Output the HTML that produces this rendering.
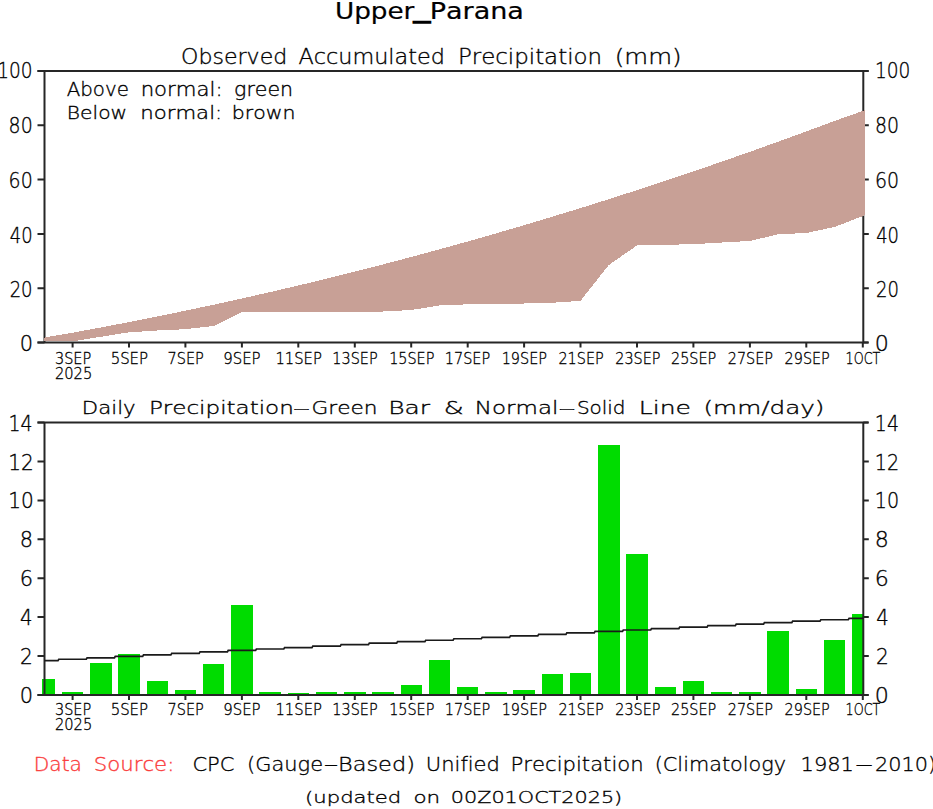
<!DOCTYPE html><html><head><meta charset="utf-8"><title>Upper_Parana</title><style>html,body{margin:0;padding:0;background:#fff;}svg{display:block;}text{font-variant-ligatures:none;font-kerning:none;}</style></head><body>
<svg width="933" height="809" viewBox="0 0 933 809">
<rect width="933" height="809" fill="#fff"/>
<path d="M44.5,71.0 V342.5 M863.3,71.0 V342.5 M37.5,71.0 H868.3 M37.5,342.5 H868.3" stroke="#262626" stroke-width="2" fill="none"/>
<path d="M37.5,342.5 H44.5 M863.3,342.5 H868.8 M37.5,288.2 H44.5 M863.3,288.2 H868.8 M37.5,233.9 H44.5 M863.3,233.9 H868.8 M37.5,179.6 H44.5 M863.3,179.6 H868.8 M37.5,125.3 H44.5 M863.3,125.3 H868.8 M37.5,71.0 H44.5 M863.3,71.0 H868.8 M72.6,342.5 v5 M129.0,342.5 v5 M185.4,342.5 v5 M241.9,342.5 v5 M298.3,342.5 v5 M354.8,342.5 v5 M411.2,342.5 v5 M467.7,342.5 v5 M524.1,342.5 v5 M580.5,342.5 v5 M637.0,342.5 v5 M693.4,342.5 v5 M749.9,342.5 v5 M806.3,342.5 v5 M862.8,342.5 v5 " stroke="#262626" stroke-width="2" fill="none"/>
<polygon points="43.5,337.7 72.6,332.7 100.8,327.5 129.0,322.1 157.2,316.5 185.4,310.7 213.7,304.7 241.9,298.5 270.1,292.1 298.3,285.5 326.6,278.7 354.8,271.6 383.0,264.4 411.2,257.0 439.4,249.3 467.7,241.5 495.9,233.4 524.1,225.2 552.3,216.7 580.5,208.1 608.8,199.2 637.0,190.1 665.2,180.9 693.4,171.4 721.7,161.7 749.9,151.8 778.1,141.7 806.3,131.4 834.5,121.0 864.5,110.3 864.5,215.4 834.5,227.0 806.3,233.0 778.1,234.3 749.9,241.0 721.7,242.5 693.4,244.2 665.2,244.8 637.0,245.4 608.8,265.0 580.5,300.8 552.3,302.8 524.1,303.5 495.9,303.7 467.7,304.3 439.4,305.5 411.2,310.0 383.0,311.5 354.8,312.0 326.6,312.0 298.3,312.0 270.1,312.0 241.9,312.1 213.7,326.0 185.4,329.2 157.2,330.5 129.0,332.3 100.8,336.8 72.6,341.4 43.5,341.4" fill="#c8a096" shape-rendering="crispEdges"/>
<rect x="42.0" y="679.2" width="13.1" height="15.8" fill="#00dc00" shape-rendering="crispEdges"/>
<rect x="61.8" y="691.7" width="21.5" height="3.3" fill="#00dc00" shape-rendering="crispEdges"/>
<rect x="90.0" y="663.4" width="21.5" height="31.6" fill="#00dc00" shape-rendering="crispEdges"/>
<rect x="118.2" y="654.3" width="21.5" height="40.7" fill="#00dc00" shape-rendering="crispEdges"/>
<rect x="146.5" y="680.9" width="21.5" height="14.1" fill="#00dc00" shape-rendering="crispEdges"/>
<rect x="174.7" y="690.0" width="21.5" height="5.0" fill="#00dc00" shape-rendering="crispEdges"/>
<rect x="202.9" y="663.7" width="21.5" height="31.3" fill="#00dc00" shape-rendering="crispEdges"/>
<rect x="231.1" y="604.6" width="21.5" height="90.4" fill="#00dc00" shape-rendering="crispEdges"/>
<rect x="259.4" y="691.7" width="21.5" height="3.3" fill="#00dc00" shape-rendering="crispEdges"/>
<rect x="287.6" y="693.2" width="21.5" height="1.8" fill="#00dc00" shape-rendering="crispEdges"/>
<rect x="315.8" y="691.7" width="21.5" height="3.3" fill="#00dc00" shape-rendering="crispEdges"/>
<rect x="344.0" y="691.9" width="21.5" height="3.1" fill="#00dc00" shape-rendering="crispEdges"/>
<rect x="372.2" y="691.9" width="21.5" height="3.1" fill="#00dc00" shape-rendering="crispEdges"/>
<rect x="400.5" y="685.4" width="21.5" height="9.6" fill="#00dc00" shape-rendering="crispEdges"/>
<rect x="428.7" y="660.3" width="21.5" height="34.7" fill="#00dc00" shape-rendering="crispEdges"/>
<rect x="456.9" y="687.1" width="21.5" height="7.9" fill="#00dc00" shape-rendering="crispEdges"/>
<rect x="485.1" y="691.7" width="21.5" height="3.3" fill="#00dc00" shape-rendering="crispEdges"/>
<rect x="513.4" y="689.7" width="21.5" height="5.3" fill="#00dc00" shape-rendering="crispEdges"/>
<rect x="541.6" y="674.3" width="21.5" height="20.7" fill="#00dc00" shape-rendering="crispEdges"/>
<rect x="569.8" y="672.7" width="21.5" height="22.3" fill="#00dc00" shape-rendering="crispEdges"/>
<rect x="598.0" y="445.2" width="21.5" height="249.8" fill="#00dc00" shape-rendering="crispEdges"/>
<rect x="626.2" y="554.3" width="21.5" height="140.7" fill="#00dc00" shape-rendering="crispEdges"/>
<rect x="654.5" y="687.3" width="21.5" height="7.7" fill="#00dc00" shape-rendering="crispEdges"/>
<rect x="682.7" y="680.9" width="21.5" height="14.1" fill="#00dc00" shape-rendering="crispEdges"/>
<rect x="710.9" y="691.9" width="21.5" height="3.1" fill="#00dc00" shape-rendering="crispEdges"/>
<rect x="739.1" y="691.9" width="21.5" height="3.1" fill="#00dc00" shape-rendering="crispEdges"/>
<rect x="767.4" y="630.8" width="21.5" height="64.2" fill="#00dc00" shape-rendering="crispEdges"/>
<rect x="795.6" y="688.6" width="21.5" height="6.4" fill="#00dc00" shape-rendering="crispEdges"/>
<rect x="823.8" y="640.3" width="21.5" height="54.7" fill="#00dc00" shape-rendering="crispEdges"/>
<rect x="852.0" y="613.7" width="12.0" height="81.3" fill="#00dc00" shape-rendering="crispEdges"/>
<path d="M44.5,422.5 V695.0 M863.3,422.5 V695.0 M37.5,422.5 H868.3 M37.5,695.0 H868.3" stroke="#262626" stroke-width="2" fill="none"/>
<path d="M37.5,695.0 H44.5 M863.3,695.0 H868.8 M37.5,656.1 H44.5 M863.3,656.1 H868.8 M37.5,617.1 H44.5 M863.3,617.1 H868.8 M37.5,578.2 H44.5 M863.3,578.2 H868.8 M37.5,539.3 H44.5 M863.3,539.3 H868.8 M37.5,500.4 H44.5 M863.3,500.4 H868.8 M37.5,461.4 H44.5 M863.3,461.4 H868.8 M37.5,422.5 H44.5 M863.3,422.5 H868.8 M72.6,695.0 v5 M129.0,695.0 v5 M185.4,695.0 v5 M241.9,695.0 v5 M298.3,695.0 v5 M354.8,695.0 v5 M411.2,695.0 v5 M467.7,695.0 v5 M524.1,695.0 v5 M580.5,695.0 v5 M637.0,695.0 v5 M693.4,695.0 v5 M749.9,695.0 v5 M806.3,695.0 v5 M862.8,695.0 v5 " stroke="#262626" stroke-width="2" fill="none"/>
<polyline points="44.5,660.70 58.0,660.70 58.8,659.24 86.3,659.24 87.1,657.78 114.5,657.78 115.3,656.31 142.7,656.31 143.5,654.85 170.9,654.85 171.7,653.39 199.2,653.39 200.0,651.93 227.4,651.93 228.2,650.47 255.6,650.47 256.4,649.00 283.8,649.00 284.6,647.54 312.0,647.54 312.8,646.08 340.3,646.08 341.1,644.62 368.5,644.62 369.3,643.16 396.7,643.16 397.5,641.69 424.9,641.69 425.7,640.23 453.1,640.23 453.9,638.77 481.4,638.77 482.2,637.31 509.6,637.31 510.4,635.84 537.8,635.84 538.6,634.38 566.0,634.38 566.8,632.92 594.3,632.92 595.1,631.46 622.5,631.46 623.3,630.00 650.7,630.00 651.5,628.53 678.9,628.53 679.7,627.07 707.1,627.07 707.9,625.61 735.4,625.61 736.2,624.15 763.6,624.15 764.4,622.69 791.8,622.69 792.6,621.22 820.0,621.22 820.8,619.76 848.3,619.76 849.1,618.30 863.3,618.30" stroke="#1a1a1a" stroke-width="1.7" fill="none"/>
<text x="334.94" y="19.30" font-family='"DejaVu Sans", "Liberation Sans", sans-serif' font-size="22.46" stroke="#000" stroke-width="0.2" textLength="79.46" lengthAdjust="spacingAndGlyphs" fill="#000">Upper</text>
<text x="413.78" y="18.00" font-family='"DejaVu Sans", "Liberation Sans", sans-serif' font-size="22.46" stroke="#000" stroke-width="1.3" textLength="16.25" lengthAdjust="spacingAndGlyphs" fill="#000">_</text>
<text x="429.66" y="19.30" font-family='"DejaVu Sans", "Liberation Sans", sans-serif' font-size="22.46" stroke="#000" stroke-width="0.2" textLength="94.25" lengthAdjust="spacingAndGlyphs" fill="#000">Parana</text>
<text x="181.14" y="63.60" font-family='"DejaVu Sans", "Liberation Sans", sans-serif' font-size="20.95" font-weight="200" stroke="#000" stroke-width="0.35" textLength="106.13" lengthAdjust="spacingAndGlyphs" fill="#000">Observed</text>
<text x="298.57" y="63.60" font-family='"DejaVu Sans", "Liberation Sans", sans-serif' font-size="20.95" font-weight="200" stroke="#000" stroke-width="0.35" textLength="146.28" lengthAdjust="spacingAndGlyphs" fill="#000">Accumulated</text>
<text x="457.91" y="63.60" font-family='"DejaVu Sans", "Liberation Sans", sans-serif' font-size="20.95" font-weight="200" stroke="#000" stroke-width="0.35" textLength="144.15" lengthAdjust="spacingAndGlyphs" fill="#000">Precipitation</text>
<text x="614.79" y="63.60" font-family='"DejaVu Sans", "Liberation Sans", sans-serif' font-size="20.95" font-weight="200" stroke="#000" stroke-width="0.35" textLength="66.79" lengthAdjust="spacingAndGlyphs" fill="#000">(mm)</text>
<text x="66.77" y="96.20" font-family='"DejaVu Sans", "Liberation Sans", sans-serif' font-size="18.68" font-weight="200" stroke="#000" stroke-width="0.35" textLength="62.07" lengthAdjust="spacingAndGlyphs" fill="#000">Above</text>
<text x="140.67" y="96.20" font-family='"DejaVu Sans", "Liberation Sans", sans-serif' font-size="18.68" font-weight="200" stroke="#000" stroke-width="0.35" textLength="81.93" lengthAdjust="spacingAndGlyphs" fill="#000">normal:</text>
<text x="234.11" y="96.20" font-family='"DejaVu Sans", "Liberation Sans", sans-serif' font-size="18.68" font-weight="200" stroke="#000" stroke-width="0.35" textLength="59.02" lengthAdjust="spacingAndGlyphs" fill="#000">green</text>
<text x="66.87" y="118.60" font-family='"DejaVu Sans", "Liberation Sans", sans-serif' font-size="17.67" font-weight="200" stroke="#000" stroke-width="0.35" textLength="60.24" lengthAdjust="spacingAndGlyphs" fill="#000">Below</text>
<text x="140.28" y="118.60" font-family='"DejaVu Sans", "Liberation Sans", sans-serif' font-size="17.67" font-weight="200" stroke="#000" stroke-width="0.35" textLength="81.92" lengthAdjust="spacingAndGlyphs" fill="#000">normal:</text>
<text x="231.89" y="118.60" font-family='"DejaVu Sans", "Liberation Sans", sans-serif' font-size="17.67" font-weight="200" stroke="#000" stroke-width="0.35" textLength="63.65" lengthAdjust="spacingAndGlyphs" fill="#000">brown</text>
<text x="81.89" y="414.40" font-family='"DejaVu Sans", "Liberation Sans", sans-serif' font-size="18.17" font-weight="200" stroke="#000" stroke-width="0.35" textLength="53.76" lengthAdjust="spacingAndGlyphs" fill="#000">Daily</text>
<text x="148.90" y="414.40" font-family='"DejaVu Sans", "Liberation Sans", sans-serif' font-size="18.17" font-weight="200" stroke="#000" stroke-width="0.35" textLength="144.95" lengthAdjust="spacingAndGlyphs" fill="#000">Precipitation</text>
<text x="292.16" y="414.40" font-family='"DejaVu Sans", "Liberation Sans", sans-serif' font-size="18.17" font-weight="200" stroke="#000" stroke-width="0.35" textLength="18.53" lengthAdjust="spacingAndGlyphs" fill="#000">-</text>
<text x="311.48" y="414.40" font-family='"DejaVu Sans", "Liberation Sans", sans-serif' font-size="18.17" font-weight="200" stroke="#000" stroke-width="0.35" textLength="66.00" lengthAdjust="spacingAndGlyphs" fill="#000">Green</text>
<text x="388.18" y="414.40" font-family='"DejaVu Sans", "Liberation Sans", sans-serif' font-size="18.17" font-weight="200" stroke="#000" stroke-width="0.35" textLength="41.82" lengthAdjust="spacingAndGlyphs" fill="#000">Bar</text>
<text x="443.68" y="414.40" font-family='"DejaVu Sans", "Liberation Sans", sans-serif' font-size="18.17" font-weight="200" stroke="#000" stroke-width="0.35" textLength="19.94" lengthAdjust="spacingAndGlyphs" fill="#000">&amp;</text>
<text x="474.85" y="414.40" font-family='"DejaVu Sans", "Liberation Sans", sans-serif' font-size="18.17" font-weight="200" stroke="#000" stroke-width="0.35" textLength="83.49" lengthAdjust="spacingAndGlyphs" fill="#000">Normal</text>
<text x="557.89" y="414.40" font-family='"DejaVu Sans", "Liberation Sans", sans-serif' font-size="18.17" font-weight="200" stroke="#000" stroke-width="0.35" textLength="18.53" lengthAdjust="spacingAndGlyphs" fill="#000">-</text>
<text x="576.90" y="414.40" font-family='"DejaVu Sans", "Liberation Sans", sans-serif' font-size="18.17" font-weight="200" stroke="#000" stroke-width="0.35" textLength="48.65" lengthAdjust="spacingAndGlyphs" fill="#000">Solid</text>
<text x="638.79" y="414.40" font-family='"DejaVu Sans", "Liberation Sans", sans-serif' font-size="18.17" font-weight="200" stroke="#000" stroke-width="0.35" textLength="52.16" lengthAdjust="spacingAndGlyphs" fill="#000">Line</text>
<text x="703.51" y="414.40" font-family='"DejaVu Sans", "Liberation Sans", sans-serif' font-size="18.17" font-weight="200" stroke="#000" stroke-width="0.35" textLength="120.97" lengthAdjust="spacingAndGlyphs" fill="#000">(mm/day)</text>
<text x="33.77" y="771.00" font-family='"DejaVu Sans", "Liberation Sans", sans-serif' font-size="19.56" font-weight="200" stroke="#fa3c3c" stroke-width="0.35" textLength="48.19" lengthAdjust="spacingAndGlyphs" fill="#fa3c3c">Data</text>
<text x="93.70" y="771.00" font-family='"DejaVu Sans", "Liberation Sans", sans-serif' font-size="19.56" font-weight="200" stroke="#fa3c3c" stroke-width="0.35" textLength="80.65" lengthAdjust="spacingAndGlyphs" fill="#fa3c3c">Source:</text>
<text x="192.47" y="771.00" font-family='"DejaVu Sans", "Liberation Sans", sans-serif' font-size="19.56" font-weight="200" stroke="#000" stroke-width="0.35" textLength="41.96" lengthAdjust="spacingAndGlyphs" fill="#000">CPC</text>
<text x="247.12" y="771.00" font-family='"DejaVu Sans", "Liberation Sans", sans-serif' font-size="19.56" font-weight="200" stroke="#000" stroke-width="0.35" textLength="75.92" lengthAdjust="spacingAndGlyphs" fill="#000">(Gauge</text>
<text x="323.33" y="771.00" font-family='"DejaVu Sans", "Liberation Sans", sans-serif' font-size="19.56" font-weight="200" stroke="#000" stroke-width="0.35" textLength="15.65" lengthAdjust="spacingAndGlyphs" fill="#000">-</text>
<text x="338.03" y="771.00" font-family='"DejaVu Sans", "Liberation Sans", sans-serif' font-size="19.56" font-weight="200" stroke="#000" stroke-width="0.35" textLength="76.88" lengthAdjust="spacingAndGlyphs" fill="#000">Based)</text>
<text x="425.85" y="771.00" font-family='"DejaVu Sans", "Liberation Sans", sans-serif' font-size="19.56" font-weight="200" stroke="#000" stroke-width="0.35" textLength="74.04" lengthAdjust="spacingAndGlyphs" fill="#000">Unified</text>
<text x="510.52" y="771.00" font-family='"DejaVu Sans", "Liberation Sans", sans-serif' font-size="19.56" font-weight="200" stroke="#000" stroke-width="0.35" textLength="133.13" lengthAdjust="spacingAndGlyphs" fill="#000">Precipitation</text>
<text x="654.74" y="771.00" font-family='"DejaVu Sans", "Liberation Sans", sans-serif' font-size="19.56" font-weight="200" stroke="#000" stroke-width="0.35" textLength="131.28" lengthAdjust="spacingAndGlyphs" fill="#000">(Climatology</text>
<text x="800.60" y="771.00" font-family='"DejaVu Sans", "Liberation Sans", sans-serif' font-size="19.56" font-weight="200" stroke="#000" stroke-width="0.35" textLength="53.37" lengthAdjust="spacingAndGlyphs" fill="#000">1981</text>
<text x="854.27" y="771.00" font-family='"DejaVu Sans", "Liberation Sans", sans-serif' font-size="19.56" font-weight="200" stroke="#000" stroke-width="0.35" textLength="19.77" lengthAdjust="spacingAndGlyphs" fill="#000">-</text>
<text x="874.96" y="771.00" font-family='"DejaVu Sans", "Liberation Sans", sans-serif' font-size="19.56" font-weight="200" stroke="#000" stroke-width="0.35" textLength="61.12" lengthAdjust="spacingAndGlyphs" fill="#000">2010)</text>
<text x="305.12" y="802.80" font-family='"DejaVu Sans", "Liberation Sans", sans-serif' font-size="16.66" font-weight="200" stroke="#000" stroke-width="0.35" textLength="96.18" lengthAdjust="spacingAndGlyphs" fill="#000">(updated</text>
<text x="413.53" y="802.80" font-family='"DejaVu Sans", "Liberation Sans", sans-serif' font-size="16.66" font-weight="200" stroke="#000" stroke-width="0.35" textLength="26.70" lengthAdjust="spacingAndGlyphs" fill="#000">on</text>
<text x="450.77" y="802.80" font-family='"DejaVu Sans", "Liberation Sans", sans-serif' font-size="16.66" font-weight="200" stroke="#000" stroke-width="0.35" textLength="171.46" lengthAdjust="spacingAndGlyphs" fill="#000">00Z01OCT2025)</text>
<text x="19.65" y="350.70" font-family='"DejaVu Sans", "Liberation Sans", sans-serif' font-size="20.85" font-weight="200" stroke="#000" stroke-width="0.35" textLength="13.29" lengthAdjust="spacingAndGlyphs" fill="#000">0</text>
<text x="874.74" y="350.70" font-family='"DejaVu Sans", "Liberation Sans", sans-serif' font-size="20.85" font-weight="200" stroke="#000" stroke-width="0.35" textLength="14.07" lengthAdjust="spacingAndGlyphs" fill="#000">0</text>
<text x="9.64" y="296.80" font-family='"DejaVu Sans", "Liberation Sans", sans-serif' font-size="20.85" font-weight="200" stroke="#000" stroke-width="0.35" textLength="22.94" lengthAdjust="spacingAndGlyphs" fill="#000">20</text>
<text x="876.05" y="296.80" font-family='"DejaVu Sans", "Liberation Sans", sans-serif' font-size="20.85" font-weight="200" stroke="#000" stroke-width="0.35" textLength="22.94" lengthAdjust="spacingAndGlyphs" fill="#000">20</text>
<text x="9.78" y="242.80" font-family='"DejaVu Sans", "Liberation Sans", sans-serif' font-size="20.85" font-weight="200" stroke="#000" stroke-width="0.35" textLength="22.77" lengthAdjust="spacingAndGlyphs" fill="#000">40</text>
<text x="876.18" y="242.80" font-family='"DejaVu Sans", "Liberation Sans", sans-serif' font-size="20.85" font-weight="200" stroke="#000" stroke-width="0.35" textLength="22.77" lengthAdjust="spacingAndGlyphs" fill="#000">40</text>
<text x="8.61" y="188.40" font-family='"DejaVu Sans", "Liberation Sans", sans-serif' font-size="20.85" font-weight="200" stroke="#000" stroke-width="0.35" textLength="24.04" lengthAdjust="spacingAndGlyphs" fill="#000">60</text>
<text x="875.02" y="188.40" font-family='"DejaVu Sans", "Liberation Sans", sans-serif' font-size="20.85" font-weight="200" stroke="#000" stroke-width="0.35" textLength="24.04" lengthAdjust="spacingAndGlyphs" fill="#000">60</text>
<text x="8.61" y="133.10" font-family='"DejaVu Sans", "Liberation Sans", sans-serif' font-size="20.85" font-weight="200" stroke="#000" stroke-width="0.35" textLength="24.04" lengthAdjust="spacingAndGlyphs" fill="#000">80</text>
<text x="875.02" y="133.10" font-family='"DejaVu Sans", "Liberation Sans", sans-serif' font-size="20.85" font-weight="200" stroke="#000" stroke-width="0.35" textLength="24.04" lengthAdjust="spacingAndGlyphs" fill="#000">80</text>
<text x="-2.74" y="78.00" font-family='"DejaVu Sans", "Liberation Sans", sans-serif' font-size="20.85" font-weight="200" stroke="#000" stroke-width="0.35" textLength="35.31" lengthAdjust="spacingAndGlyphs" fill="#000">100</text>
<text x="874.94" y="78.00" font-family='"DejaVu Sans", "Liberation Sans", sans-serif' font-size="20.85" font-weight="200" stroke="#000" stroke-width="0.35" textLength="35.46" lengthAdjust="spacingAndGlyphs" fill="#000">100</text>
<text x="19.65" y="703.10" font-family='"DejaVu Sans", "Liberation Sans", sans-serif' font-size="20.85" font-weight="200" stroke="#000" stroke-width="0.35" textLength="13.29" lengthAdjust="spacingAndGlyphs" fill="#000">0</text>
<text x="874.74" y="703.10" font-family='"DejaVu Sans", "Liberation Sans", sans-serif' font-size="20.85" font-weight="200" stroke="#000" stroke-width="0.35" textLength="14.07" lengthAdjust="spacingAndGlyphs" fill="#000">0</text>
<text x="20.04" y="664.17" font-family='"DejaVu Sans", "Liberation Sans", sans-serif' font-size="20.85" font-weight="200" stroke="#000" stroke-width="0.35" textLength="12.79" lengthAdjust="spacingAndGlyphs" fill="#000">2</text>
<text x="875.88" y="664.17" font-family='"DejaVu Sans", "Liberation Sans", sans-serif' font-size="20.85" font-weight="200" stroke="#000" stroke-width="0.35" textLength="12.79" lengthAdjust="spacingAndGlyphs" fill="#000">2</text>
<text x="20.05" y="625.24" font-family='"DejaVu Sans", "Liberation Sans", sans-serif' font-size="20.85" font-weight="200" stroke="#000" stroke-width="0.35" textLength="12.51" lengthAdjust="spacingAndGlyphs" fill="#000">4</text>
<text x="876.14" y="625.24" font-family='"DejaVu Sans", "Liberation Sans", sans-serif' font-size="20.85" font-weight="200" stroke="#000" stroke-width="0.35" textLength="12.51" lengthAdjust="spacingAndGlyphs" fill="#000">4</text>
<text x="19.65" y="586.31" font-family='"DejaVu Sans", "Liberation Sans", sans-serif' font-size="20.85" font-weight="200" stroke="#000" stroke-width="0.35" textLength="13.29" lengthAdjust="spacingAndGlyphs" fill="#000">6</text>
<text x="874.74" y="586.31" font-family='"DejaVu Sans", "Liberation Sans", sans-serif' font-size="20.85" font-weight="200" stroke="#000" stroke-width="0.35" textLength="14.07" lengthAdjust="spacingAndGlyphs" fill="#000">6</text>
<text x="19.65" y="547.39" font-family='"DejaVu Sans", "Liberation Sans", sans-serif' font-size="20.85" font-weight="200" stroke="#000" stroke-width="0.35" textLength="13.29" lengthAdjust="spacingAndGlyphs" fill="#000">8</text>
<text x="874.74" y="547.39" font-family='"DejaVu Sans", "Liberation Sans", sans-serif' font-size="20.85" font-weight="200" stroke="#000" stroke-width="0.35" textLength="14.07" lengthAdjust="spacingAndGlyphs" fill="#000">8</text>
<text x="8.27" y="508.46" font-family='"DejaVu Sans", "Liberation Sans", sans-serif' font-size="20.85" font-weight="200" stroke="#000" stroke-width="0.35" textLength="25.51" lengthAdjust="spacingAndGlyphs" fill="#000">10</text>
<text x="874.80" y="508.46" font-family='"DejaVu Sans", "Liberation Sans", sans-serif' font-size="20.85" font-weight="200" stroke="#000" stroke-width="0.35" textLength="24.29" lengthAdjust="spacingAndGlyphs" fill="#000">10</text>
<text x="8.27" y="469.53" font-family='"DejaVu Sans", "Liberation Sans", sans-serif' font-size="20.85" font-weight="200" stroke="#000" stroke-width="0.35" textLength="25.51" lengthAdjust="spacingAndGlyphs" fill="#000">12</text>
<text x="874.80" y="469.53" font-family='"DejaVu Sans", "Liberation Sans", sans-serif' font-size="20.85" font-weight="200" stroke="#000" stroke-width="0.35" textLength="24.29" lengthAdjust="spacingAndGlyphs" fill="#000">12</text>
<text x="8.45" y="430.60" font-family='"DejaVu Sans", "Liberation Sans", sans-serif' font-size="20.85" font-weight="200" stroke="#000" stroke-width="0.35" textLength="24.04" lengthAdjust="spacingAndGlyphs" fill="#000">14</text>
<text x="874.86" y="430.60" font-family='"DejaVu Sans", "Liberation Sans", sans-serif' font-size="20.85" font-weight="200" stroke="#000" stroke-width="0.35" textLength="24.04" lengthAdjust="spacingAndGlyphs" fill="#000">14</text>
<text x="54.93" y="363.60" font-family='"DejaVu Sans", "Liberation Sans", sans-serif' font-size="16.19" font-weight="200" stroke="#000" stroke-width="0.35" textLength="36.31" lengthAdjust="spacingAndGlyphs" fill="#000">3SEP</text>
<text x="110.65" y="363.60" font-family='"DejaVu Sans", "Liberation Sans", sans-serif' font-size="16.19" font-weight="200" stroke="#000" stroke-width="0.35" textLength="37.41" lengthAdjust="spacingAndGlyphs" fill="#000">5SEP</text>
<text x="167.50" y="363.60" font-family='"DejaVu Sans", "Liberation Sans", sans-serif' font-size="16.19" font-weight="200" stroke="#000" stroke-width="0.35" textLength="36.28" lengthAdjust="spacingAndGlyphs" fill="#000">7SEP</text>
<text x="223.25" y="363.60" font-family='"DejaVu Sans", "Liberation Sans", sans-serif' font-size="16.19" font-weight="200" stroke="#000" stroke-width="0.35" textLength="37.35" lengthAdjust="spacingAndGlyphs" fill="#000">9SEP</text>
<text x="275.49" y="363.60" font-family='"DejaVu Sans", "Liberation Sans", sans-serif' font-size="16.19" font-weight="200" stroke="#000" stroke-width="0.35" textLength="46.37" lengthAdjust="spacingAndGlyphs" fill="#000">11SEP</text>
<text x="332.33" y="363.60" font-family='"DejaVu Sans", "Liberation Sans", sans-serif' font-size="16.19" font-weight="200" stroke="#000" stroke-width="0.35" textLength="45.32" lengthAdjust="spacingAndGlyphs" fill="#000">13SEP</text>
<text x="389.13" y="363.60" font-family='"DejaVu Sans", "Liberation Sans", sans-serif' font-size="16.19" font-weight="200" stroke="#000" stroke-width="0.35" textLength="45.27" lengthAdjust="spacingAndGlyphs" fill="#000">15SEP</text>
<text x="444.87" y="363.60" font-family='"DejaVu Sans", "Liberation Sans", sans-serif' font-size="16.19" font-weight="200" stroke="#000" stroke-width="0.35" textLength="45.34" lengthAdjust="spacingAndGlyphs" fill="#000">17SEP</text>
<text x="501.67" y="363.60" font-family='"DejaVu Sans", "Liberation Sans", sans-serif' font-size="16.19" font-weight="200" stroke="#000" stroke-width="0.35" textLength="45.27" lengthAdjust="spacingAndGlyphs" fill="#000">19SEP</text>
<text x="558.46" y="363.60" font-family='"DejaVu Sans", "Liberation Sans", sans-serif' font-size="16.19" font-weight="200" stroke="#000" stroke-width="0.35" textLength="45.27" lengthAdjust="spacingAndGlyphs" fill="#000">21SEP</text>
<text x="615.22" y="363.60" font-family='"DejaVu Sans", "Liberation Sans", sans-serif' font-size="16.19" font-weight="200" stroke="#000" stroke-width="0.35" textLength="45.27" lengthAdjust="spacingAndGlyphs" fill="#000">23SEP</text>
<text x="671.01" y="363.60" font-family='"DejaVu Sans", "Liberation Sans", sans-serif' font-size="16.19" font-weight="200" stroke="#000" stroke-width="0.35" textLength="45.27" lengthAdjust="spacingAndGlyphs" fill="#000">25SEP</text>
<text x="727.77" y="363.60" font-family='"DejaVu Sans", "Liberation Sans", sans-serif' font-size="16.19" font-weight="200" stroke="#000" stroke-width="0.35" textLength="45.27" lengthAdjust="spacingAndGlyphs" fill="#000">27SEP</text>
<text x="784.56" y="363.60" font-family='"DejaVu Sans", "Liberation Sans", sans-serif' font-size="16.19" font-weight="200" stroke="#000" stroke-width="0.35" textLength="45.27" lengthAdjust="spacingAndGlyphs" fill="#000">29SEP</text>
<text x="845.61" y="363.60" font-family='"DejaVu Sans", "Liberation Sans", sans-serif' font-size="16.19" font-weight="200" stroke="#000" stroke-width="0.35" textLength="34.66" lengthAdjust="spacingAndGlyphs" fill="#000">1OCT</text>
<text x="54.90" y="379.00" font-family='"DejaVu Sans", "Liberation Sans", sans-serif' font-size="16.19" font-weight="200" stroke="#000" stroke-width="0.35" textLength="37.44" lengthAdjust="spacingAndGlyphs" fill="#000">2025</text>
<text x="54.93" y="715.00" font-family='"DejaVu Sans", "Liberation Sans", sans-serif' font-size="16.46" font-weight="200" stroke="#000" stroke-width="0.35" textLength="36.31" lengthAdjust="spacingAndGlyphs" fill="#000">3SEP</text>
<text x="110.65" y="715.00" font-family='"DejaVu Sans", "Liberation Sans", sans-serif' font-size="16.46" font-weight="200" stroke="#000" stroke-width="0.35" textLength="37.41" lengthAdjust="spacingAndGlyphs" fill="#000">5SEP</text>
<text x="167.50" y="715.00" font-family='"DejaVu Sans", "Liberation Sans", sans-serif' font-size="16.46" font-weight="200" stroke="#000" stroke-width="0.35" textLength="36.28" lengthAdjust="spacingAndGlyphs" fill="#000">7SEP</text>
<text x="223.25" y="715.00" font-family='"DejaVu Sans", "Liberation Sans", sans-serif' font-size="16.46" font-weight="200" stroke="#000" stroke-width="0.35" textLength="37.35" lengthAdjust="spacingAndGlyphs" fill="#000">9SEP</text>
<text x="275.49" y="715.00" font-family='"DejaVu Sans", "Liberation Sans", sans-serif' font-size="16.46" font-weight="200" stroke="#000" stroke-width="0.35" textLength="46.37" lengthAdjust="spacingAndGlyphs" fill="#000">11SEP</text>
<text x="332.33" y="715.00" font-family='"DejaVu Sans", "Liberation Sans", sans-serif' font-size="16.46" font-weight="200" stroke="#000" stroke-width="0.35" textLength="45.32" lengthAdjust="spacingAndGlyphs" fill="#000">13SEP</text>
<text x="389.13" y="715.00" font-family='"DejaVu Sans", "Liberation Sans", sans-serif' font-size="16.46" font-weight="200" stroke="#000" stroke-width="0.35" textLength="45.27" lengthAdjust="spacingAndGlyphs" fill="#000">15SEP</text>
<text x="444.87" y="715.00" font-family='"DejaVu Sans", "Liberation Sans", sans-serif' font-size="16.46" font-weight="200" stroke="#000" stroke-width="0.35" textLength="45.34" lengthAdjust="spacingAndGlyphs" fill="#000">17SEP</text>
<text x="501.67" y="715.00" font-family='"DejaVu Sans", "Liberation Sans", sans-serif' font-size="16.46" font-weight="200" stroke="#000" stroke-width="0.35" textLength="45.27" lengthAdjust="spacingAndGlyphs" fill="#000">19SEP</text>
<text x="558.46" y="715.00" font-family='"DejaVu Sans", "Liberation Sans", sans-serif' font-size="16.46" font-weight="200" stroke="#000" stroke-width="0.35" textLength="45.27" lengthAdjust="spacingAndGlyphs" fill="#000">21SEP</text>
<text x="615.22" y="715.00" font-family='"DejaVu Sans", "Liberation Sans", sans-serif' font-size="16.46" font-weight="200" stroke="#000" stroke-width="0.35" textLength="45.27" lengthAdjust="spacingAndGlyphs" fill="#000">23SEP</text>
<text x="671.01" y="715.00" font-family='"DejaVu Sans", "Liberation Sans", sans-serif' font-size="16.46" font-weight="200" stroke="#000" stroke-width="0.35" textLength="45.27" lengthAdjust="spacingAndGlyphs" fill="#000">25SEP</text>
<text x="727.77" y="715.00" font-family='"DejaVu Sans", "Liberation Sans", sans-serif' font-size="16.46" font-weight="200" stroke="#000" stroke-width="0.35" textLength="45.27" lengthAdjust="spacingAndGlyphs" fill="#000">27SEP</text>
<text x="784.56" y="715.00" font-family='"DejaVu Sans", "Liberation Sans", sans-serif' font-size="16.46" font-weight="200" stroke="#000" stroke-width="0.35" textLength="45.27" lengthAdjust="spacingAndGlyphs" fill="#000">29SEP</text>
<text x="845.61" y="715.00" font-family='"DejaVu Sans", "Liberation Sans", sans-serif' font-size="16.46" font-weight="200" stroke="#000" stroke-width="0.35" textLength="34.66" lengthAdjust="spacingAndGlyphs" fill="#000">1OCT</text>
<text x="54.90" y="730.40" font-family='"DejaVu Sans", "Liberation Sans", sans-serif' font-size="16.46" font-weight="200" stroke="#000" stroke-width="0.35" textLength="37.44" lengthAdjust="spacingAndGlyphs" fill="#000">2025</text>
</svg></body></html>
